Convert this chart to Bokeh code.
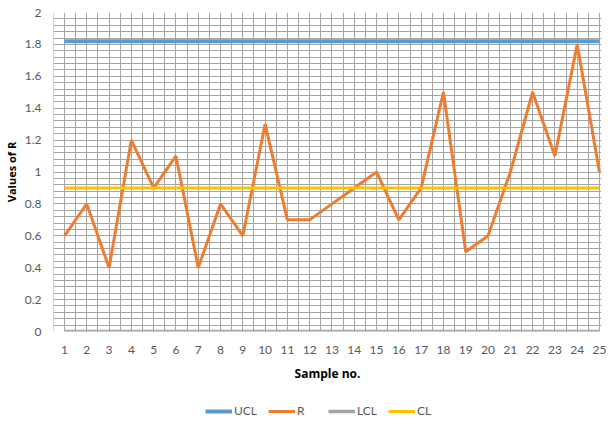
from bokeh.plotting import figure
from bokeh.layouts import column
from bokeh.models import (ColumnDataSource, Legend, LegendItem, FixedTicker,
                          CustomJSTickFormatter, Range1d)
from bokeh.embed import file_html
from bokeh.resources import INLINE

samples = list(range(1, 26))
r_values = [0.6, 0.8, 0.4, 1.2, 0.9, 1.1, 0.4, 0.8, 0.6, 1.3, 0.7, 0.7, 0.8,
            0.9, 1.0, 0.7, 0.9, 1.5, 0.5, 0.6, 1.0, 1.5, 1.1, 1.8, 1.0]
ucl_values = [1.82] * 25
lcl_values = [0.0] * 25
cl_values = [0.9] * 25
y_ticks = [0, 0.2, 0.4, 0.6, 0.8, 1.0, 1.2, 1.4, 1.6, 1.8, 2.0]
series_names = ["UCL", "R", "LCL", "CL"]
series_colors = ["#5b9bd5", "#ed7d31", "#a5a5a5", "#ffc000"]

src = ColumnDataSource(dict(x=samples, r=r_values, ucl=ucl_values,
                            lcl=lcl_values, cl=cl_values))

FONT = "Lato"
p = figure(frame_width=548, frame_height=319, output_backend="svg",
           toolbar_location=None,
           x_range=Range1d(0.507, 25.09), y_range=Range1d(0, 2),
           min_border_left=0, min_border_right=9, min_border_top=12,
           min_border_bottom=0)
p.outline_line_color = None
p.background_fill_color = "white"

widths = [4, 3, 3.5, 3]
cols = ["ucl", "r", "lcl", "cl"]
for c, col, w in zip(cols, series_colors, widths):
    p.line("x", c, source=src, line_color=col, line_width=w)

# axes
p.xaxis.ticker = FixedTicker(ticks=samples, minor_ticks=[i + 0.5 for i in range(0, 26)])
p.yaxis.ticker = FixedTicker(ticks=y_ticks,
                             minor_ticks=[round(i * 0.04, 2) for i in range(51)])
p.yaxis.formatter = CustomJSTickFormatter(
    code="return tick.toFixed(1).replace(/\\.0$/, '');")
for ax in (p.xaxis, p.yaxis):
    ax.axis_line_color = None
    ax.major_tick_line_color = None
    ax.minor_tick_line_color = None
    ax.major_label_text_font = FONT
    ax.major_label_text_font_size = "12px"
    ax.major_label_text_color = "#595959"
    ax.axis_label_text_font = "Open Sans"
    ax.axis_label_text_font_style = "bold"
    ax.axis_label_text_color = "#000000"
p.xaxis.axis_label = "Sample no."
p.xaxis.axis_label_text_font_size = "12px"
p.xaxis.major_label_standoff = 8
p.xaxis.axis_label_standoff = 8
p.yaxis.axis_label = "Values of R"
p.yaxis.axis_label_text_font_size = "11px"
p.yaxis.major_label_standoff = 6
p.yaxis.axis_label_standoff = 3

# grid
for g in (p.xgrid, p.ygrid):
    g.grid_line_color = "#a6a6a6"
    g.minor_grid_line_color = "#a6a6a6"
    g.grid_line_width = 1

# legend strip below the chart (series drawn off-screen, only legend visible)
lf = figure(frame_width=609, frame_height=56, output_backend="svg",
            toolbar_location=None, x_range=Range1d(-3, -2), y_range=Range1d(-3, -2),
            min_border=0)
lf.axis.visible = False
lf.grid.visible = False
lf.outline_line_color = None
items = []
for name, c, col, w in zip(series_names, cols, series_colors, widths):
    rr = lf.line("x", c, source=src, line_color=col, line_width=w)
    items.append(LegendItem(label=name, renderers=[rr]))
legend = Legend(items=items, orientation="horizontal", location=(205, 22),
                label_text_font=FONT, label_text_font_size="12px",
                label_text_color="#595959", border_line_color=None,
                background_fill_alpha=0,
                glyph_width=27, glyph_height=12, label_standoff=2, spacing=11,
                margin=0, padding=2)
lf.add_layout(legend, "center")

layout = column(p, lf, spacing=0)
open("out.html", "w").write(file_html(layout, INLINE))
